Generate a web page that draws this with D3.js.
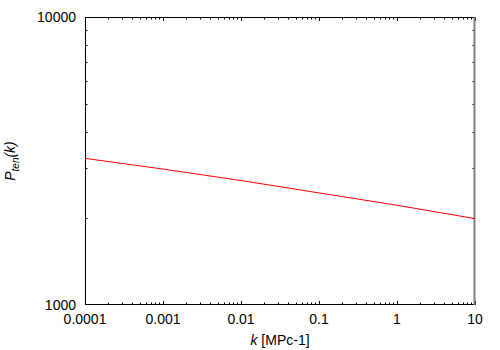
<!DOCTYPE html>
<html>
<head lang="en">
    <meta charset="UTF-8">
    <title>P ten</title>
    <script src="https://d3js.org/d3.v7.min.js"></script>
</head>
<body style="margin:0">
<svg id="chart" width="500" height="350"></svg>
<style>
    text{
        font-family: "Liberation Sans", Arial, sans-serif;
        font-size: 14px;
        fill: #000;
    }
</style>
<script>

    // data
    const K_VALUES = [0.0001, 0.001, 0.01, 0.1, 1, 10];
    const P_TEN = [3230, 2965, 2705, 2450, 2220, 1995];
    const X_TICKS = [0.0001, 0.001, 0.01, 0.1, 1, 10];
    const X_TICK_LABELS = ["0.0001", "0.001", "0.01", "0.1", "1", "10"];
    const Y_TICKS = [1000, 10000];
    const Y_TICK_LABELS = ["1000", "10000"];

    let svg = d3.select('#chart');
    let margins = {top:17, right:25, bottom:45, left:85};
    let width = 500 - margins.left - margins.right,
        height = 350 - margins.top - margins.bottom;

    let xscale = d3.scaleLog().domain([0.0001, 10]).range([0, width]);
    let yscale = d3.scaleLog().domain([1000, 10000]).range([height, 0]);

    let g = svg.append('g').attr('transform', `translate(${margins.left}, ${margins.top})`);

    // minor ticks: 2..9 in each decade
    let xminor = [], yminor = [];
    for (let e = -4; e < 1; e++) {
        for (let m = 2; m < 10; m++) xminor.push(m * Math.pow(10, e));
    }
    for (let m = 2; m < 10; m++) yminor.push(m * 1000);

    let ticks = g.append('g').attr('stroke', '#000').attr('stroke-width', 1);

    // x ticks bottom and top
    X_TICKS.forEach(v => {
        let x = Math.round(xscale(v)) + 0.5;
        ticks.append('line').attr('x1', x).attr('x2', x).attr('y1', height).attr('y2', height - 4);
        ticks.append('line').attr('x1', x).attr('x2', x).attr('y1', 0).attr('y2', 4);
    });
    xminor.forEach(v => {
        let x = Math.round(xscale(v)) + 0.5;
        ticks.append('line').attr('x1', x).attr('x2', x).attr('y1', height).attr('y2', height - 2.5);
        ticks.append('line').attr('x1', x).attr('x2', x).attr('y1', 0).attr('y2', 2.5);
    });
    // y ticks left and right
    yminor.forEach(v => {
        let y = Math.round(yscale(v)) + 0.5;
        ticks.append('line').attr('x1', 0).attr('x2', 2.5).attr('y1', y).attr('y2', y);
        ticks.append('line').attr('x1', width).attr('x2', width - 2.5).attr('y1', y).attr('y2', y);
    });

    // frame
    g.append('rect')
        .attr('x', 0.5).attr('y', 0.5)
        .attr('width', width - 1).attr('height', height - 1)
        .attr('fill', 'none').attr('stroke', '#000').attr('stroke-width', 1);
    g.append('line')
        .attr('x1', width - 0.5).attr('x2', width - 0.5).attr('y1', 0).attr('y2', height)
        .attr('stroke', '#808080').attr('stroke-width', 2);

    // tick labels
    g.selectAll('.xlab').data(X_TICKS).enter().append('text')
        .attr('class', 'xlab')
        .attr('x', d => xscale(d))
        .attr('y', height + 19)
        .attr('text-anchor', 'middle')
        .text((d, i) => X_TICK_LABELS[i]);

    g.selectAll('.ylab').data(Y_TICKS).enter().append('text')
        .attr('class', 'ylab')
        .attr('x', -9)
        .attr('y', d => yscale(d) + 5)
        .attr('text-anchor', 'end')
        .text((d, i) => Y_TICK_LABELS[i]);

    // axis titles
    let xt = svg.append('text')
        .attr('x', margins.left + width / 2)
        .attr('y', 345)
        .attr('text-anchor', 'middle');
    xt.append('tspan').attr('font-style', 'italic').text('k');
    xt.append('tspan').text(' [MPc-1]');

    let yt = svg.append('text')
        .attr('transform', `translate(15, ${margins.top + height / 2}) rotate(-90)`)
        .attr('text-anchor', 'middle');
    yt.append('tspan').attr('font-style', 'italic').text('P');
    yt.append('tspan').attr('font-style', 'italic').attr('font-size', '10px').attr('dy', 4).text('ten');
    yt.append('tspan').attr('font-style', 'italic').attr('dy', -4).text('(k)');

    // line
    let line = d3.line()
        .x((d, i) => xscale(K_VALUES[i]))
        .y(d => yscale(d));

    g.append('path')
        .datum(P_TEN)
        .attr('d', line)
        .attr('fill', 'none')
        .attr('stroke', '#ff0000')
        .attr('stroke-width', 1);

</script>
</body>
</html>
